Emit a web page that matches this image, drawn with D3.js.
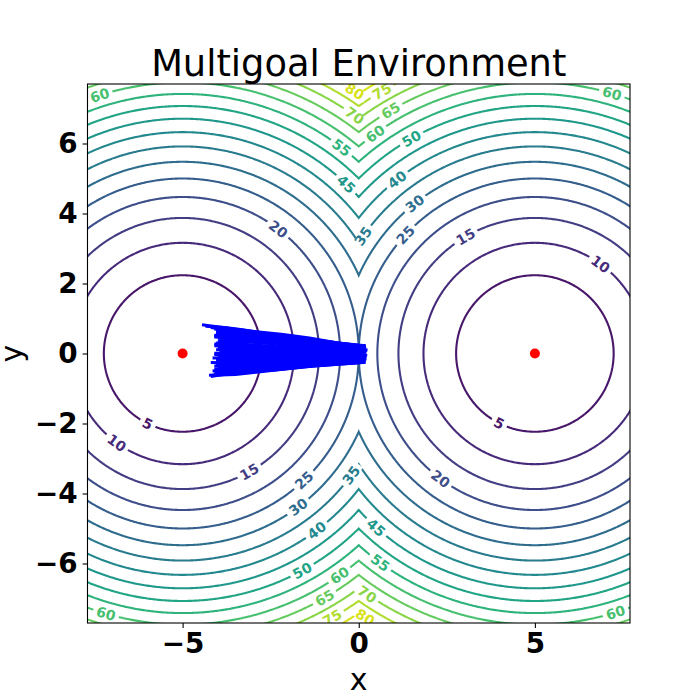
<!DOCTYPE html>
<html>
<head>
<meta charset="utf-8">
<script src="https://cdn.jsdelivr.net/npm/d3@7"></script>
<style>
  body { margin: 0; background: #fff; }
  text { font-family: "DejaVu Sans", sans-serif; }
</style>
</head>
<body>
<svg id="chart"></svg>
<script>
// goal positions of the environment
const goals = [[5, 0], [-5, 0]];
// contour levels drawn (colour scale runs 0..85)
const levels = [5, 10, 15, 20, 25, 30, 35, 40, 45, 50, 55, 60, 65, 70, 75, 80];
const colorTop = 85;
const xTicks = [-5, 0, 5];
const yTicks = [-6, -4, -2, 0, 2, 4, 6];

// contour labels: [level, index of goal the circle belongs to, angle around that goal in degrees]
const contourLabels = [
    [60, 1, 107.7], [80, 1, 56.9], [75, 0, 120.1], [70, 1, 54.3], [65, 0, 120.5],
    [55, 1, 52.5], [60, 0, 125.8], [50, 0, 119.7], [45, 1, 46.2], [40, 0, 128.2],
    [30, 0, 128.5], [35, 0, 145.5], [25, 0, 137.3], [20, 1, 52.6], [15, 0, 120.5],
    [60, 0, 73.6], [10, 0, 53.9], [5, 0, -117], [20, 0, -126.8],
    [5, 1, -116.3], [10, 1, -126.2], [15, 1, -60.7], [25, 1, -46.4], [35, 1, -36],
    [30, 1, -53.2], [45, 0, -132.2], [40, 1, -53], [55, 0, -126.3], [50, 1, -61.3],
    [60, 1, -54.9], [70, 0, -124.7], [65, 1, -60], [80, 0, -122.6], [75, 1, -60.6],
    [60, 1, -106.3], [60, 0, -72.8]
];

const paths = [
    [[0.18, 0.2], [-0.6, 0.3], [-1.4, 0.44], [-2.2, 0.55], [-3.0, 0.63], [-3.7, 0.72], [-4.45, 0.82]],
    [[0.12, 0.16], [-0.7, 0.27], [-1.5, 0.4], [-2.4, 0.5], [-3.2, 0.6], [-3.9, 0.7], [-4.2, 0.74]],
    [[0.2, 0.12], [-0.5, 0.2], [-1.3, 0.33], [-2.1, 0.45], [-2.9, 0.55], [-3.6, 0.62], [-4.05, 0.66]],
    [[0.15, 0.08], [-0.8, 0.18], [-1.6, 0.3], [-2.5, 0.42], [-3.3, 0.5], [-4.0, 0.57]],
    [[0.22, 0.05], [-0.6, 0.12], [-1.5, 0.24], [-2.3, 0.35], [-3.1, 0.45], [-3.7, 0.5], [-4.1, 0.52]],
    [[0.1, 0.02], [-0.7, 0.1], [-1.7, 0.2], [-2.6, 0.3], [-3.5, 0.4], [-4.0, 0.44]],
    [[0.2, 0.0], [-0.4, 0.06], [-1.2, 0.14], [-2.0, 0.24], [-2.9, 0.33], [-3.6, 0.37], [-3.95, 0.38]],
    [[0.16, -0.03], [-0.9, 0.05], [-1.8, 0.15], [-2.7, 0.22], [-3.5, 0.28], [-4.05, 0.3]],
    [[0.24, -0.05], [-0.5, 0.0], [-1.4, 0.08], [-2.3, 0.15], [-3.2, 0.2], [-3.9, 0.22]],
    [[0.12, -0.08], [-0.8, -0.02], [-1.7, 0.05], [-2.6, 0.1], [-3.4, 0.14], [-4.0, 0.15]],
    [[0.2, -0.1], [-0.6, -0.06], [-1.5, 0.0], [-2.4, 0.05], [-3.3, 0.08], [-3.95, 0.08]],
    [[0.15, -0.12], [-0.9, -0.1], [-1.9, -0.06], [-2.8, -0.02], [-3.6, 0.0], [-4.1, 0.01]],
    [[0.22, -0.15], [-0.7, -0.14], [-1.6, -0.12], [-2.5, -0.1], [-3.3, -0.08], [-3.9, -0.07]],
    [[0.1, -0.17], [-0.8, -0.18], [-1.8, -0.18], [-2.7, -0.17], [-3.5, -0.16], [-4.05, -0.15]],
    [[0.18, -0.2], [-0.6, -0.22], [-1.5, -0.25], [-2.4, -0.26], [-3.2, -0.26], [-3.85, -0.25]],
    [[0.14, -0.23], [-0.9, -0.27], [-1.8, -0.32], [-2.7, -0.35], [-3.5, -0.36], [-4.1, -0.36]],
    [[0.2, -0.25], [-0.8, -0.3], [-1.7, -0.38], [-2.6, -0.44], [-3.4, -0.48], [-4.0, -0.5]],
    [[0.12, -0.22], [-1.0, -0.3], [-2.0, -0.42], [-2.9, -0.5], [-3.6, -0.56], [-4.2, -0.66]],
    [[0.2, 0.18], [-0.4, 0.22], [-1.1, 0.34], [-1.9, 0.46], [-2.7, 0.58], [-3.4, 0.66], [-3.95, 0.7]],
    [[0.25, 0.1], [-0.3, 0.14], [-1.0, 0.24], [-1.9, 0.36], [-2.8, 0.47], [-3.5, 0.55], [-3.85, 0.58]],
    [[0.18, -0.02], [-0.5, -0.05], [-1.3, -0.03], [-2.2, -0.04], [-3.1, -0.03], [-3.8, -0.04]],
    [[0.2, -0.18], [-0.5, -0.2], [-1.2, -0.28], [-2.1, -0.34], [-3.0, -0.42], [-3.7, -0.46], [-4.15, -0.5]],
    [[0.1, 0.05], [-0.9, 0.08], [-2.0, 0.1], [-2.9, 0.12], [-3.7, 0.2], [-4.1, 0.22]],
    [[0.16, 0.14], [-0.8, 0.2], [-1.9, 0.28], [-2.8, 0.38], [-3.6, 0.48], [-4.1, 0.5]],
    [[0.22, -0.07], [-0.7, -0.1], [-1.6, -0.16], [-2.5, -0.22], [-3.3, -0.3], [-3.95, -0.33]],
    [[0.14, -0.14], [-0.9, -0.22], [-2.0, -0.24], [-2.9, -0.28], [-3.7, -0.27], [-4.2, -0.26]],
    [[0.2, 0.22], [-0.6, 0.3], [-1.5, 0.42], [-2.5, 0.55], [-3.3, 0.68], [-3.8, 0.74], [-4.35, 0.78]],
    [[0.1, -0.24], [-0.6, -0.27], [-1.4, -0.34], [-2.3, -0.44], [-3.1, -0.52], [-3.8, -0.6], [-4.25, -0.62]],
    [[0.17, 0.0], [-1.0, 0.03], [-2.1, 0.0], [-3.0, -0.1], [-3.8, -0.12], [-4.15, -0.13]],
    [[0.2, 0.06], [-0.8, 0.0], [-1.9, -0.08], [-2.9, -0.15], [-3.7, -0.2], [-4.05, -0.2]],
    [[0.16, 0.1], [-0.7, 0.16], [-1.8, 0.25], [-2.7, 0.3], [-3.5, 0.34], [-4.0, 0.36]],
    [[0.14, -0.19], [-0.8, -0.24], [-1.9, -0.28], [-2.8, -0.4], [-3.6, -0.42], [-4.1, -0.44]],
    [[0.19, 0.21], [-0.9, 0.34], [-2.0, 0.5], [-3.1, 0.62], [-3.8, 0.67], [-4.1, 0.7]],
    [[0.13, 0.19], [-1.1, 0.3], [-2.3, 0.44], [-3.3, 0.54], [-4.0, 0.62]],
    [[0.21, 0.15], [-1.0, 0.29], [-2.2, 0.4], [-3.0, 0.5], [-3.75, 0.56], [-4.05, 0.6]],
    [[0.11, 0.12], [-1.2, 0.22], [-2.4, 0.32], [-3.4, 0.45], [-4.1, 0.47]],
    [[0.23, 0.08], [-1.1, 0.16], [-2.2, 0.27], [-3.2, 0.36], [-3.9, 0.42]],
    [[0.15, 0.03], [-1.3, 0.1], [-2.5, 0.19], [-3.4, 0.25], [-4.1, 0.27]],
    [[0.2, -0.01], [-1.1, 0.0], [-2.4, 0.08], [-3.5, 0.11], [-4.05, 0.11]],
    [[0.13, -0.06], [-1.2, -0.04], [-2.3, -0.02], [-3.4, 0.03], [-3.95, 0.04]],
    [[0.19, -0.11], [-1.1, -0.11], [-2.3, -0.08], [-3.5, -0.04], [-4.1, -0.03]],
    [[0.11, -0.13], [-1.2, -0.15], [-2.4, -0.14], [-3.4, -0.12], [-4.0, -0.1]],
    [[0.21, -0.16], [-1.0, -0.2], [-2.2, -0.21], [-3.3, -0.2], [-3.95, -0.19]],
    [[0.15, -0.21], [-1.3, -0.25], [-2.3, -0.3], [-3.3, -0.32], [-4.05, -0.3]],
    [[0.18, -0.24], [-1.1, -0.32], [-2.2, -0.4], [-3.3, -0.42], [-4.0, -0.41]],
    [[0.13, -0.26], [-1.2, -0.35], [-2.4, -0.47], [-3.3, -0.53], [-4.1, -0.57]],
    [[0.16, -0.25], [-1.5, -0.38], [-2.6, -0.5], [-3.5, -0.6], [-4.15, -0.62]]
];

const width = 700, height = 700;
const axLeft = 87.5, axRight = 630, axTop = 84, axBottom = 623;
const lim = 7.7;

const svg = d3.select("#chart").attr("width", width).attr("height", height);

const x = d3.scaleLinear().domain([-lim, lim]).range([axLeft, axRight]);
const y = d3.scaleLinear().domain([-lim, lim]).range([axBottom, axTop]);
const color = v => d3.interpolateViridis(v / colorTop);

function cost(px, py) {
    return d3.min(goals, g => (px - g[0]) ** 2 + (py - g[1]) ** 2);
}

// grid for the cost surface, a bit larger than the view so the
// polygon edges fall outside the clip
const g0 = -9, g1 = 9, step = 0.04;
const n = Math.round((g1 - g0) / step) + 1;
const grid = new Float64Array(n * n);
for (let j = 0; j < n; j++) {
    for (let i = 0; i < n; i++) {
        grid[j * n + i] = cost(g0 + i * step, g0 + j * step);
    }
}
const contours = d3.contours().size([n, n]).thresholds(levels)(grid);

const toPx = p => [x(g0 + (p[0] - 0.5) * step), y(g0 + (p[1] - 0.5) * step)];
function ringPath(geom) {
    let s = "";
    geom.coordinates.forEach(poly => poly.forEach(ring => {
        s += "M" + ring.map(p => toPx(p).map(v => v.toFixed(2)).join(",")).join("L") + "Z";
    }));
    return s;
}

const defs = svg.append("defs");
defs.append("clipPath").attr("id", "frame")
    .append("rect")
    .attr("x", axLeft).attr("y", axTop)
    .attr("width", axRight - axLeft).attr("height", axBottom - axTop);
const mask = defs.append("mask").attr("id", "labelGap")
    .attr("maskUnits", "userSpaceOnUse")
    .attr("x", 0).attr("y", 0).attr("width", width).attr("height", height);
mask.append("rect").attr("width", width).attr("height", height).attr("fill", "#fff");

const plot = svg.append("g").attr("clip-path", "url(#frame)");

plot.append("g").attr("mask", "url(#labelGap)")
    .selectAll("path")
    .data(contours)
    .enter()
    .append("path")
    .attr("d", ringPath)
    .attr("fill", "none")
    .attr("stroke", d => color(d.value))
    .attr("stroke-width", 2.1);

// inline labels placed on the circle around their goal
const labelG = plot.append("g");
contourLabels.forEach(([lv, gi, ang]) => {
    const r = Math.sqrt(lv), a = ang * Math.PI / 180;
    const px = x(goals[gi][0] + r * Math.cos(a));
    const py = y(goals[gi][1] + r * Math.sin(a));
    let rot = -(ang + 90);
    while (rot > 90) rot -= 180;
    while (rot <= -90) rot += 180;
    const t = labelG.append("text")
        .attr("transform", `translate(${px},${py}) rotate(${rot})`)
        .attr("text-anchor", "middle")
        .attr("dy", "0.36em")
        .attr("font-size", 14)
        .attr("font-weight", "bold")
        .attr("fill", color(lv))
        .text(lv);
    const w = t.node().getComputedTextLength() + 7;
    mask.append("rect")
        .attr("x", -w / 2).attr("y", -5).attr("width", w).attr("height", 10)
        .attr("transform", `translate(${px},${py}) rotate(${rot})`)
        .attr("fill", "#000");
});

const line = d3.line().x(d => x(d[0])).y(d => y(d[1]));
plot.append("g")
    .selectAll("path")
    .data(paths)
    .enter()
    .append("path")
    .attr("d", line)
    .attr("fill", "none")
    .attr("stroke", "#0000ff")
    .attr("stroke-width", 3)
    .attr("stroke-linejoin", "round");

plot.append("g")
    .selectAll("circle")
    .data(goals)
    .enter()
    .append("circle")
    .attr("cx", d => x(d[0]))
    .attr("cy", d => y(d[1]))
    .attr("r", 5)
    .attr("fill", "#ff0000");

// axes
const axisX = svg.append("g")
    .attr("transform", `translate(0,${axBottom})`)
    .call(d3.axisBottom(x).tickValues(xTicks).tickSize(4.9).tickPadding(4.9));
const axisY = svg.append("g")
    .attr("transform", `translate(${axLeft},0)`)
    .call(d3.axisLeft(y).tickValues(yTicks).tickSize(4.9).tickPadding(4.9));
[axisX, axisY].forEach(ax => {
    ax.select(".domain").remove();
    ax.selectAll("line").attr("stroke", "#000").attr("stroke-width", 1.1);
    ax.selectAll("text")
        .attr("fill", "#000")
        .style("font-family", "'DejaVu Sans'")
        .style("font-size", "27.8px")
        .style("font-weight", "bold");
});

svg.append("rect")
    .attr("x", axLeft).attr("y", axTop)
    .attr("width", axRight - axLeft).attr("height", axBottom - axTop)
    .attr("fill", "none")
    .attr("stroke", "#000")
    .attr("stroke-width", 1.1);

svg.append("text")
    .attr("x", (axLeft + axRight) / 2).attr("y", 76)
    .attr("text-anchor", "middle")
    .attr("font-size", 36.8)
    .text("Multigoal Environment");

svg.append("text")
    .attr("x", (axLeft + axRight) / 2).attr("y", 690)
    .attr("text-anchor", "middle")
    .attr("font-size", 30)
    .text("x");

svg.append("text")
    .attr("transform", `translate(22,${(axTop + axBottom) / 2}) rotate(-90)`)
    .attr("text-anchor", "middle")
    .attr("font-size", 30)
    .text("y");
</script>
</body>
</html>
